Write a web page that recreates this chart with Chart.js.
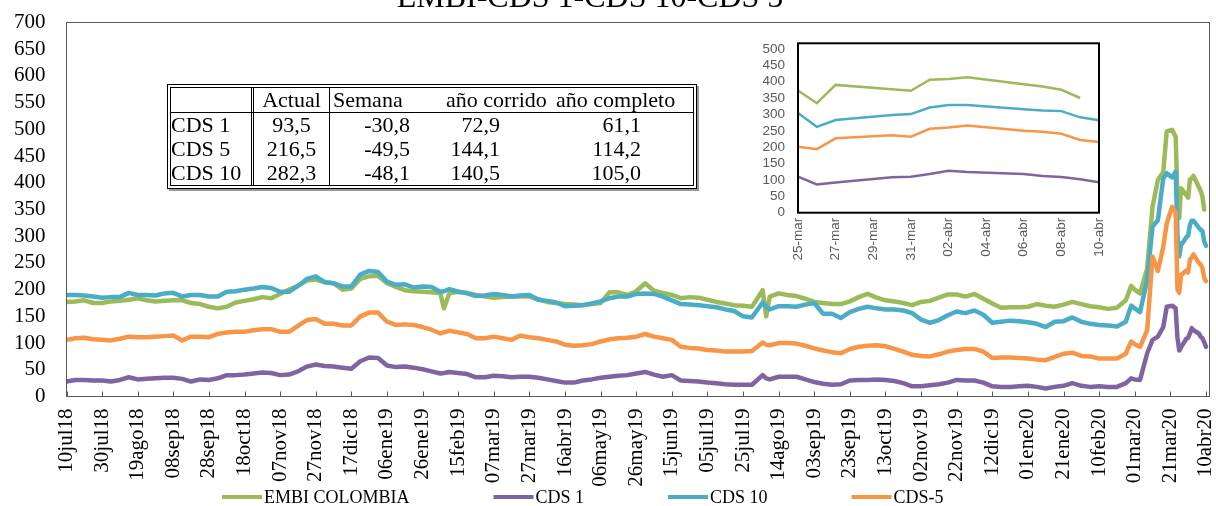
<!DOCTYPE html>
<html>
<head>
<meta charset="utf-8">
<title>EMBI-CDS 1-CDS 10-CDS 5</title>
<script src="https://cdn.jsdelivr.net/npm/chart.js@4.4.1/dist/chart.umd.min.js"></script>
<style>
  html, body { margin: 0; padding: 0; background: #fff; }
  #wrap { position: relative; width: 1216px; height: 506px; overflow: hidden; }
  #main { position: absolute; left: 0; top: 0; }
  #inset { position: absolute; left: 740px; top: 30px; }
  #tabla {
    position: absolute; left: 167px; top: 84px;
    border: 4px double #000; box-shadow: 2px 2px 0 #999;
    border-spacing: 0; background: #fff; table-layout: fixed; width: 530px;
    font: 22px "Liberation Serif", "Times New Roman", serif; color: #000;
  }
  #tabla td { box-sizing: border-box; padding: 0; height: 24px; line-height: 24px; white-space: nowrap; }
  #tabla tr:first-child td { border-bottom: 1px solid #000; }
  #tabla td.c1 { width: 83px; border-right: 3px double #000; text-align: left; }
  #tabla td.c2 { width: 76px; border-right: 1px solid #000; text-align: center; }
  #tabla td.c3 { width: 110px; text-align: right; padding-right: 30px; }
  #tabla td.c4 { width: 115px; text-align: right; padding-right: 55px; }
  #tabla td.c5 { width: 138px; text-align: right; padding-right: 52px; }
  #tabla tr:first-child td.c3, #tabla tr:first-child td.c4, #tabla tr:first-child td.c5 { text-align: left; padding-right: 0; }
  #tabla tr:first-child td.c3 { padding-left: 3px; }
  #tabla tr:first-child td.c4 { padding-left: 6px; }
  #tabla tr:first-child td.c5 { padding-left: 1px; }
</style>
</head>
<body>
<div id="wrap">
  <canvas id="main" width="1216" height="506"></canvas>
  <table id="tabla"></table>
  <canvas id="inset" width="380" height="240"></canvas>
</div>
<script>
// titulo y leyenda
const chartTitle = 'EMBI-CDS 1-CDS 10-CDS 5';
const seriesNames = ['EMBI COLOMBIA', 'CDS 1', 'CDS 10', 'CDS-5'];
const seriesColors = ['#9BBB59', '#8064A2', '#4BACC6', '#F79646'];

// eje x principal: dias desde 10jul18, etiquetas cada 20 dias
const tickLabels = ['10jul18', '30jul18', '19ago18', '08sep18', '28sep18', '18oct18', '07nov18', '27nov18',
  '17dic18', '06ene19', '26ene19', '15feb19', '07mar19', '27mar19', '16abr19', '06may19', '26may19',
  '15jun19', '05jul19', '25jul19', '14ago19', '03sep19', '23sep19', '13oct19', '02nov19', '22nov19',
  '12dic19', '01ene20', '21ene20', '10feb20', '01mar20', '21mar20', '10abr20'];

const days = [
  0, 5, 10, 15, 20, 25, 30, 35, 40, 45, 50, 55, 60, 65, 70, 75, 80, 85, 90, 95,
  100, 105, 110, 115, 120, 125, 130, 135, 140, 145, 150, 155, 160, 165, 170, 175, 180, 185, 190, 195,
  200, 205, 210, 212, 215, 220, 225, 230, 235, 240, 245, 250, 255, 260, 265, 270, 275, 280, 285, 290, 295,
  300, 305, 310, 315, 320, 325, 330, 335, 340, 345, 350, 355, 360, 365, 370, 375, 380, 385, 391, 393, 395,
  400, 405, 410, 415, 420, 425, 430, 435, 440, 445, 450, 455, 460, 465, 470, 475, 480, 485, 490, 495,
  500, 505, 510, 515, 520, 525, 530, 535, 540, 545, 550, 555, 560, 565, 570, 575, 580, 585, 590, 595,
  598, 600, 603, 607, 610, 613, 616, 618, 621, 623, 624, 625, 626, 629, 630, 631, 632, 633, 636, 637, 638, 639, 640];

const embi = [
  177, 178, 180, 175, 175, 178, 179, 181, 184, 180, 178, 179, 180, 180, 175, 173, 168, 165, 168, 176,
  179, 182, 186, 184, 192, 200, 207, 217, 219, 214, 212, 200, 202, 220, 225, 226, 212, 205, 199, 197,
  196, 195, 193, 165, 193, 196, 194, 190, 187, 185, 186, 187, 187, 187, 182, 177, 175, 173, 172, 171, 173,
  175, 195, 195, 190, 197, 212, 198, 194, 190, 184, 186, 185, 181, 177, 174, 171, 170, 168, 199, 150, 187,
  193, 190, 188, 183, 177, 175, 173, 173, 178, 186, 192, 185, 180, 178, 175, 171, 177, 179, 185, 191,
  191, 187, 192, 183, 174, 166, 167, 167, 168, 173, 170, 168, 172, 177, 173, 169, 167, 164, 166, 180,
  207, 200, 193, 240, 355, 405, 420, 496, 499, 486, 373, 334, 390, 377, 372, 406, 408, 413, 392, 385, 375, 350, null];

const cds1 = [
  28, 31, 31, 30, 30, 28, 31, 36, 32, 33, 34, 35, 35, 33, 28, 32, 31, 34, 40, 40,
  41, 43, 45, 44, 40, 41, 47, 56, 60, 57, 56, 54, 52, 66, 73, 72, 58, 55, 56, 54,
  51, 47, 43, 44, 46, 44, 42, 36, 36, 39, 38, 36, 37, 37, 35, 32, 29, 26, 26, 30, 32,
  35, 37, 39, 40, 43, 46, 41, 37, 40, 30, 29, 28, 26, 25, 23, 22, 22, 22, 40, 34, 32,
  37, 37, 37, 32, 27, 24, 22, 23, 30, 31, 31, 32, 31, 29, 25, 19, 19, 21, 23, 26,
  31, 30, 30, 26, 19, 18, 18, 19, 20, 18, 15, 18, 20, 25, 20, 18, 19, 18, 18, 25,
  34, 32, 31, 81, 106, 112, 130, 168, 170, 165, 110, 86, 92, 108, 110, 118, 128, 124, 118, 112, 109, 102, 93];

const cds10 = [
  190, 190, 189, 187, 185, 186, 186, 194, 190, 190, 189, 193, 194, 187, 190, 190, 187, 187, 196, 197,
  200, 202, 205, 203, 196, 196, 207, 220, 225, 214, 212, 206, 206, 228, 235, 233, 215, 209, 210, 204,
  206, 205, 196, 197, 201, 196, 193, 188, 189, 192, 190, 187, 189, 190, 181, 179, 176, 169, 170, 171, 174,
  178, 184, 187, 187, 192, 193, 192, 187, 180, 173, 172, 171, 169, 167, 163, 160, 150, 148, 176, 168, 163,
  169, 169, 168, 172, 175, 155, 155, 147, 158, 164, 168, 165, 163, 163, 161, 156, 144, 138, 143, 152,
  159, 156, 161, 153, 138, 140, 142, 141, 139, 136, 130, 140, 141, 148, 140, 136, 134, 133, 131, 140,
  170, 165, 158, 218, 318, 330, 408, 418, 410, 421, 304, 262, 283, 298, 301, 321, 329, 329, 316, 312, 310, 291, 282];

const cds5 = [
  106, 109, 110, 107, 106, 105, 108, 112, 111, 111, 112, 113, 114, 105, 112, 112, 111, 117, 120, 121,
  121, 124, 126, 126, 121, 121, 132, 143, 145, 136, 136, 133, 133, 150, 157, 157, 140, 134, 135, 134,
  130, 125, 118, 120, 123, 120, 117, 109, 109, 112, 109, 106, 114, 111, 109, 106, 103, 97, 95, 96, 98,
  103, 107, 109, 110, 112, 117, 112, 109, 106, 93, 91, 90, 87, 86, 84, 84, 84, 85, 101, 97, 96,
  100, 100, 99, 95, 90, 86, 83, 81, 89, 93, 95, 96, 94, 89, 84, 78, 76, 75, 79, 84,
  87, 89, 89, 84, 72, 73, 73, 72, 71, 69, 68, 74, 80, 82, 76, 75, 71, 71, 71, 80,
  103, 98, 93, 124, 262, 235, 280, 324, 355, 345, 201, 194, 227, 236, 232, 256, 260, 266, 250, 247, 241, 222, 216];

// grafico pequeño 25-mar a 10-abr
const insetLabels = ['25-mar', '26-mar', '27-mar', '28-mar', '29-mar', '30-mar', '31-mar', '01-abr', '02-abr',
  '03-abr', '04-abr', '05-abr', '06-abr', '07-abr', '08-abr', '09-abr', '10-abr'];
const insetTicks = [0, 50, 100, 150, 200, 250, 300, 350, 400, 450, 500];
const insetEmbi = [373, 334, 390, null, null, 377, 372, 406, 408, 413, null, null, 392, 385, 375, 350, null];
const insetCds1 = [110, 86, 92, null, null, 108, 110, 118, 128, 124, null, null, 118, 112, 109, 102, 93];
const insetCds10 = [304, 262, 283, null, null, 298, 301, 321, 329, 329, null, null, 316, 312, 310, 291, 282];
const insetCds5 = [201, 194, 227, null, null, 236, 232, 256, 260, 266, null, null, 250, 247, 241, 222, 216];

// tabla
const tableHead = ['', 'Actual', 'Semana', 'año corrido', 'año completo'];
const tableRows = ['CDS 1', 'CDS 5', 'CDS 10'];
const colActual = ['93,5', '216,5', '282,3'];
const colSemana = ['-30,8', '-49,5', '-48,1'];
const colCorrido = ['72,9', '144,1', '140,5'];
const colCompleto = ['61,1', '114,2', '105,0'];

const serif = '"Liberation Serif", "Times New Roman", serif';
const sans = '"Liberation Sans", Arial, sans-serif';

// armar la tabla
const tabla = document.getElementById('tabla');
function addRow(cells) {
    const tr = document.createElement('tr');
    cells.forEach((txt, i) => {
        const td = document.createElement('td');
        td.className = 'c' + (i + 1);
        td.textContent = txt;
        tr.appendChild(td);
    });
    tabla.appendChild(tr);
}
addRow(tableHead);
tableRows.forEach((name, i) => addRow([name, colActual[i], colSemana[i], colCorrido[i], colCompleto[i]]));

function toPoints(values) {
    return days.map((d, i) => ({ x: d, y: values[i] }));
}

const mainSeries = [embi, cds1, cds10, cds5];

// marco, marcas del eje, titulo y leyenda
const mainDecor = {
    id: 'mainDecor',
    afterDraw(chart) {
        const ctx = chart.ctx;
        const a = chart.chartArea;
        const xs = chart.scales.x;
        ctx.save();
        ctx.strokeStyle = '#595959';
        ctx.lineWidth = 1;
        ctx.strokeRect(a.left, a.top, a.right - a.left, a.bottom - a.top);
        ctx.beginPath();
        xs.ticks.forEach(t => {
            const px = Math.round(xs.getPixelForValue(t.value)) + 0.5;
            ctx.moveTo(px, a.bottom);
            ctx.lineTo(px, a.bottom - 5);
        });
        ctx.stroke();

        ctx.fillStyle = '#000';
        ctx.font = '32px ' + serif;
        ctx.textAlign = 'center';
        ctx.textBaseline = 'alphabetic';
        ctx.fillText(chartTitle, 590, 7);

        ctx.font = '18px ' + serif;
        ctx.textAlign = 'left';
        ctx.textBaseline = 'middle';
        let x = 222;
        const y = 497;
        seriesNames.forEach((name, i) => {
            ctx.strokeStyle = seriesColors[i];
            ctx.lineWidth = 4;
            ctx.beginPath();
            ctx.moveTo(x, y);
            ctx.lineTo(x + 40, y);
            ctx.stroke();
            ctx.fillText(name, x + 42, y + 1);
            x += 42 + ctx.measureText(name).width + 84;
        });
        ctx.restore();
    }
};

new Chart(document.getElementById('main'), {
    type: 'line',
    data: {
        datasets: mainSeries.map((vals, i) => ({
            label: seriesNames[i],
            data: toPoints(vals),
            borderColor: seriesColors[i],
            backgroundColor: seriesColors[i],
            borderWidth: 4.5,
            pointRadius: 0,
            tension: 0,
            borderJoinStyle: 'round',
            borderCapStyle: 'round',
            order: mainSeries.length - i
        }))
    },
    options: {
        responsive: false,
        animation: false,
        devicePixelRatio: 1,
        layout: { padding: { top: 22.5, right: 6.5, left: 0, bottom: 0 } },
        plugins: { legend: { display: false }, tooltip: { enabled: false } },
        scales: {
            x: {
                type: 'linear',
                min: 0,
                max: 642,
                afterBuildTicks: s => { s.ticks = tickLabels.map((t, i) => ({ value: i * 20 })); },
                afterFit: s => { s.height = 109.5; s.paddingLeft = 0; s.paddingRight = 0; },
                grid: { display: false, drawTicks: false },
                border: { display: false },
                ticks: {
                    autoSkip: false, minRotation: 90, maxRotation: 90, padding: 12,
                    color: '#000', font: { family: serif, size: 21 },
                    callback: (v, i) => tickLabels[i]
                }
            },
            y: {
                min: 0,
                max: 700,
                afterFit: s => { s.width = 66.5; s.paddingTop = 0; s.paddingBottom = 0; },
                grid: { display: false, drawTicks: false },
                border: { display: false },
                ticks: { stepSize: 50, autoSkip: false, padding: 21, color: '#000', font: { family: serif, size: 21 } }
            }
        }
    },
    plugins: [mainDecor]
});

// grafico pequeño
const insetFrame = {
    id: 'insetFrame',
    afterDraw(chart) {
        const ctx = chart.ctx;
        const a = chart.chartArea;
        ctx.save();
        ctx.strokeStyle = '#000';
        ctx.lineWidth = 2;
        ctx.strokeRect(a.left, a.top, a.right - a.left, a.bottom - a.top);
        ctx.restore();
    }
};

const insetSeries = [insetEmbi, insetCds1, insetCds10, insetCds5];

new Chart(document.getElementById('inset'), {
    type: 'line',
    data: {
        labels: insetLabels,
        datasets: insetSeries.map((vals, i) => ({
            label: seriesNames[i],
            data: vals,
            borderColor: seriesColors[i],
            backgroundColor: seriesColors[i],
            borderWidth: 2.5,
            pointRadius: 0,
            tension: 0,
            spanGaps: true,
            order: insetSeries.length - i
        }))
    },
    options: {
        responsive: false,
        animation: false,
        devicePixelRatio: 1,
        layout: { padding: { top: 13.3, right: 21, left: 0, bottom: 0 } },
        plugins: { legend: { display: false }, tooltip: { enabled: false } },
        scales: {
            x: {
                offset: false,
                afterFit: s => { s.height = 57.3; s.paddingLeft = 0; s.paddingRight = 0; },
                grid: { display: false, drawTicks: false },
                border: { display: false },
                ticks: {
                    autoSkip: false, minRotation: 90, maxRotation: 90, padding: 5,
                    color: '#595959', font: { family: sans, size: 13.5 },
                    callback: (v, i) => (i % 2 === 0 ? insetLabels[i] : '')
                }
            },
            y: {
                min: 0,
                max: 517,
                afterBuildTicks: s => { s.ticks = insetTicks.map(v => ({ value: v })); },
                afterFit: s => { s.width = 58; s.paddingTop = 0; s.paddingBottom = 0; },
                grid: { display: false, drawTicks: false },
                border: { display: false },
                ticks: { autoSkip: false, padding: 13, color: '#595959', font: { family: sans, size: 13.5 } }
            }
        }
    },
    plugins: [insetFrame]
});
</script>
</body>
</html>
